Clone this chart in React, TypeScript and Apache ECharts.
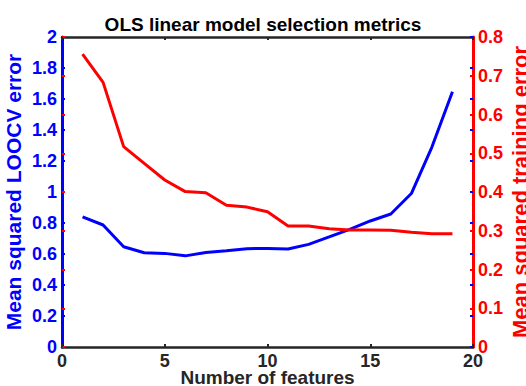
import React, { useEffect, useRef } from "react";
import * as echarts from "echarts";

const features = [1, 2, 3, 4, 5, 6, 7, 8, 9, 10, 11, 12, 13, 14, 15, 16, 17, 18, 19];
const loocvError = [0.84, 0.787, 0.647, 0.608, 0.604, 0.588, 0.61, 0.621, 0.634, 0.636, 0.632, 0.662, 0.71, 0.759, 0.813, 0.858, 0.99, 1.29, 1.647];
const trainingError = [0.756, 0.683, 0.517, 0.474, 0.431, 0.401, 0.398, 0.366, 0.361, 0.349, 0.312, 0.312, 0.305, 0.302, 0.302, 0.301, 0.296, 0.292, 0.292];

const FONT = "'Liberation Sans', Arial, Helvetica, sans-serif";
const DARK = "#262626";
const BLUE = "#0000ff";
const RED = "#ff0000";

export default function App() {
  const ref = useRef<HTMLDivElement>(null);
  useEffect(() => {
    document.body.style.margin = "0";
    if (!ref.current) return;
    const chart = echarts.init(ref.current, null, { renderer: "svg" });
    const xCommon = {
      type: "value",
      min: 0,
      max: 20,
      interval: 5,
      splitLine: { show: false },
      axisLine: { show: true, onZero: false, lineStyle: { color: DARK, width: 2.5 } },
      axisTick: { show: true, inside: true, length: 3, lineStyle: { color: DARK, width: 2 } },
    };
    chart.setOption({
      animation: false,
      backgroundColor: "#ffffff",
      title: {
        text: "OLS linear model selection metrics",
        left: "center",
        top: 10,
        textStyle: { fontFamily: FONT, fontWeight: "bold", fontSize: 19, color: "#000" },
      },
      grid: { left: 62, right: 53, top: 37, bottom: 39, containLabel: false, outerBoundsMode: "none" },
      xAxis: [
        {
          ...xCommon,
          position: "bottom",
          name: "Number of features",
          nameLocation: "middle",
          nameGap: 21,
          nameMoveOverlap: false,
          nameTextStyle: { fontFamily: FONT, fontWeight: "bold", fontSize: 19, color: DARK },
          axisLabel: { show: true, margin: 5, fontFamily: FONT, fontWeight: "bold", fontSize: 18, color: DARK },
        },
        {
          ...xCommon,
          position: "top",
          axisLabel: { show: false },
        },
      ],
      yAxis: [
        {
          type: "value",
          position: "left",
          min: 0,
          max: 2,
          interval: 0.2,
          splitLine: { show: false },
          axisLine: { show: true, onZero: false, lineStyle: { color: BLUE, width: 3 } },
          axisTick: { show: true, inside: true, length: 3, lineStyle: { color: BLUE, width: 2 } },
          axisLabel: { margin: 5, fontFamily: FONT, fontWeight: "bold", fontSize: 18, color: BLUE },
          name: "Mean squared LOOCV error",
          nameLocation: "middle",
          nameRotate: 90,
          nameGap: 38,
          nameMoveOverlap: false,
          nameTextStyle: { fontFamily: FONT, fontWeight: "bold", fontSize: 21, color: BLUE },
        },
        {
          type: "value",
          position: "right",
          min: 0,
          max: 0.8,
          interval: 0.1,
          splitLine: { show: false },
          axisLine: { show: true, onZero: false, lineStyle: { color: RED, width: 3 } },
          axisTick: { show: true, inside: true, length: 3, lineStyle: { color: RED, width: 2 } },
          axisLabel: { margin: 5, fontFamily: FONT, fontWeight: "bold", fontSize: 18, color: RED },
          name: "Mean squared training error",
          nameLocation: "middle",
          nameRotate: 90,
          nameGap: 36,
          nameMoveOverlap: false,
          nameTextStyle: { fontFamily: FONT, fontWeight: "bold", fontSize: 22, color: RED },
        },
        {
          type: "value",
          position: "right",
          min: 0,
          max: 2,
          interval: 0.2,
          splitLine: { show: false },
          axisLine: { show: false, onZero: false },
          axisTick: { show: true, inside: true, length: 3, lineStyle: { color: BLUE, width: 2 } },
          axisLabel: { show: false },
        },
        {
          type: "value",
          position: "left",
          min: 0,
          max: 0.8,
          interval: 0.1,
          splitLine: { show: false },
          axisLine: { show: false, onZero: false },
          axisTick: { show: true, inside: true, length: 3, lineStyle: { color: RED, width: 2 } },
          axisLabel: { show: false },
        },
      ],
      series: [
        {
          type: "line",
          name: "LOOCV",
          xAxisIndex: 0,
          yAxisIndex: 0,
          data: features.map((f, i) => [f, loocvError[i]]),
          showSymbol: false,
          lineStyle: { color: BLUE, width: 3 },
          itemStyle: { color: BLUE },
          z: 3,
        },
        {
          type: "line",
          name: "Training",
          xAxisIndex: 0,
          yAxisIndex: 1,
          data: features.map((f, i) => [f, trainingError[i]]),
          showSymbol: false,
          lineStyle: { color: RED, width: 3 },
          itemStyle: { color: RED },
          z: 4,
        },
      ],
    });
    return () => chart.dispose();
  }, []);
  return <div ref={ref} style={{ width: 526, height: 386 }} />;
}
